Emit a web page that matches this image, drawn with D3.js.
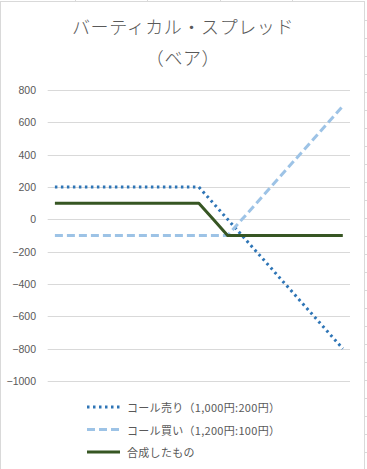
<!DOCTYPE html>
<html><head><meta charset="utf-8">
<script src="https://cdn.jsdelivr.net/npm/d3@7"></script>
<style>html,body{margin:0;padding:0;background:#fff;}svg{display:block;}</style>
</head><body>
<svg id="c" width="367" height="469"></svg>
<script>
const categories = [0,100,200,300,400,500,600,700,800,900,1000,1100,1200,1300,1400,1500,1600,1700,1800,1900,2000];
const callSell = [200,200,200,200,200,200,200,200,200,200,200,100,0,-100,-200,-300,-400,-500,-600,-700,-800];
const callBuy = [-100,-100,-100,-100,-100,-100,-100,-100,-100,-100,-100,-100,-100,0,100,200,300,400,500,600,700];
const combined = [100,100,100,100,100,100,100,100,100,100,100,0,-100,-100,-100,-100,-100,-100,-100,-100,-100];
const yTicks = [800,600,400,200,0,-200,-400,-600,-800,-1000];
const titleLines = ["バーティカル・スプレッド","（ベア）"];
const seriesNames = ["コール売り（1,000円:200円）","コール買い（1,200円:100円）","合成したもの"];

const svg = d3.select("#c");
const jp = "'Noto Sans CJK JP','Noto Sans',sans-serif";

// background spreadsheet cell marks
const bg = svg.append("g");
[75,147,220,292].forEach(x=>bg.append("line").attr("x1",x+0.5).attr("x2",x+0.5).attr("y1",0).attr("y2",1).attr("stroke","#d9d9d9"));
d3.range(20,469,18).forEach(y=>bg.append("line").attr("x1",365).attr("x2",367).attr("y1",y+0.5).attr("y2",y+0.5).attr("stroke","#d9d9d9"));
svg.append("rect").attr("x",0.5).attr("y",1.5).attr("width",364).attr("height",470).attr("fill","#fff").attr("stroke","#d9d9d9");

const x = d3.scalePoint().domain(categories).range([47.7,350]).padding(0.5);
const y = d3.scaleLinear().domain([-1000,800]).range([381,90]);

// gridlines
svg.append("g").selectAll("line").data(yTicks).join("line")
  .attr("x1",47.7).attr("x2",350)
  .attr("y1",d=>Math.round(y(d))+0.5).attr("y2",d=>Math.round(y(d))+0.5)
  .attr("stroke","#d9d9d9").attr("stroke-width",1);

// y axis labels
const yAxis = d3.axisLeft(y).tickValues(yTicks).tickFormat(d3.format("d")).tickSize(0).tickPadding(0);
const ya = svg.append("g").attr("transform","translate(36,0)").call(yAxis);
ya.select(".domain").remove();
ya.selectAll("text").attr("font-family","'Liberation Sans',Arial,sans-serif").attr("font-size","10.5px").attr("fill","#595959");

// title
svg.append("g").selectAll("text").data(titleLines).join("text")
  .attr("x",183).attr("y",(d,i)=>26+i*31)
  .attr("text-anchor","middle").attr("dominant-baseline","central")
  .attr("font-family",jp).attr("font-size","18px").attr("font-weight",300)
  .attr("letter-spacing","0.6px").attr("fill","#595959").text(d=>d);

const series = [
  {vals:callSell, color:"#2e75b6", dash:"2.5,3.5", cap:"butt", w:3},
  {vals:callBuy, color:"#9dc3e6", dash:"8,4", cap:"butt", w:3},
  {vals:combined, color:"#375623", dash:null, cap:"butt", w:3}
];
const line = d3.line().x((d,i)=>x(categories[i])).y(d=>y(d));
series.forEach(s=>{
  svg.append("path").datum(s.vals).attr("d",line).attr("fill","none")
    .attr("stroke",s.color).attr("stroke-width",s.w)
    .attr("stroke-dasharray",s.dash).attr("stroke-linecap",s.cap).attr("stroke-linejoin","round");
});

// legend
const lg = svg.append("g");
series.forEach((s,i)=>{
  const yy = 407 + i*22.5;
  lg.append("line").attr("x1",87).attr("x2",120).attr("y1",yy).attr("y2",yy)
    .attr("stroke",s.color).attr("stroke-width",s.w).attr("stroke-dasharray",s.dash);
  lg.append("text").attr("x",127).attr("y",yy).attr("dominant-baseline","central")
    .attr("font-family",jp).attr("font-size","11px").attr("letter-spacing","0.3px").attr("fill","#595959").text(seriesNames[i]);
});
</script>
</body></html>
